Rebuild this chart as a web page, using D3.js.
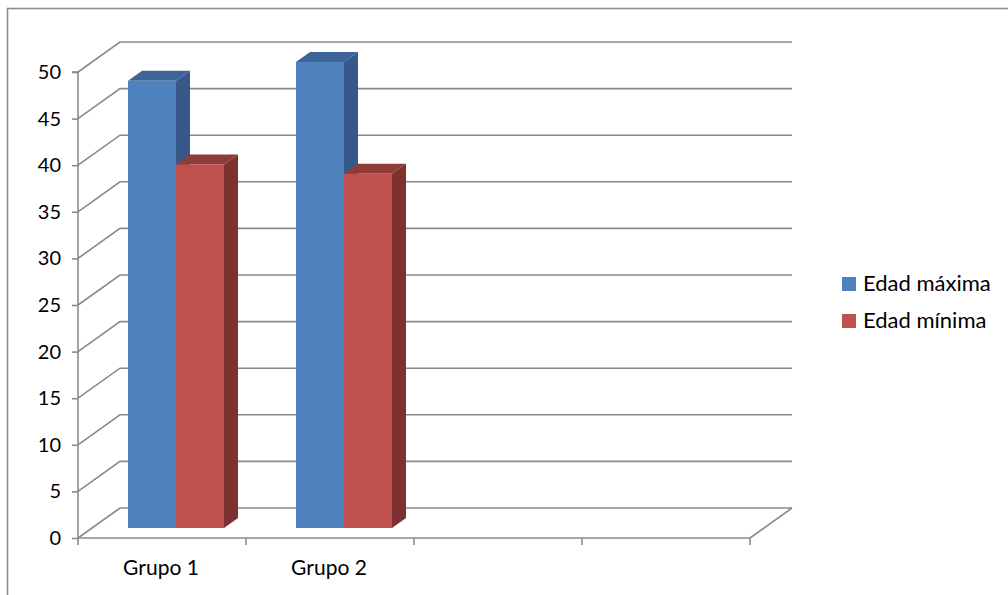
<!DOCTYPE html>
<html>
<head>
<meta charset="utf-8">
<script src="https://cdn.jsdelivr.net/npm/d3@7/dist/d3.min.js"></script>
<style>
  html, body { margin: 0; padding: 0; background: #ffffff; }
  svg { display: block; }
  text { font-family: Lato, "Open Sans", sans-serif; fill: #000; }
</style>
</head>
<body>
<svg id="chart" width="1008" height="595"></svg>
<script>
// Chart data
const categories = ["Grupo 1", "Grupo 2", "", ""];
const seriesNames = ["Edad máxima", "Edad mínima"];
const edadMaxima = [48, 50, null, null];
const edadMinima = [39, 38, null, null];
const yTicks = [0, 5, 10, 15, 20, 25, 30, 35, 40, 45, 50];

const seriesValues = [edadMaxima, edadMinima];
const colors = [
  { front: "#4f81bd", side: "#36598a", top: "#3d6497" },
  { front: "#c0504d", side: "#7c3230", top: "#8f3b38" }
];

const svg = d3.select("#chart");

// Front plane of the plot and the depth of the 3D box
const plotLeft = 78, plotRight = 750, plotBottom = 538, plotTop = 72;
const depthX = 42, depthY = -30;

const x = d3.scaleBand().domain(categories.map((c, i) => i)).range([plotLeft, plotRight]).padding(0);
const y = d3.scaleLinear().domain([0, 50]).range([plotBottom, plotTop]);

// Project a point at a given depth fraction (0 = front, 1 = back wall)
const proj = (px, v, t) => [px + depthX * t, y(v) + depthY * t];
const pts = arr => arr.map(p => p.join(",")).join(" ");

// Outer frame
svg.append("rect")
  .attr("x", 7.5).attr("y", 8.5).attr("width", 1100).attr("height", 1000)
  .attr("fill", "none").attr("stroke", "#8c8c8c").attr("stroke-width", 1.6);

const grid = svg.append("g").attr("stroke", "#8a8a8a").attr("stroke-width", 1.6).attr("fill", "none");

// Back wall gridlines and left wall diagonals
yTicks.forEach(v => {
  const a = proj(plotLeft, v, 0), b = proj(plotLeft, v, 1), c = proj(plotRight, v, 1);
  grid.append("polyline").attr("points", pts([a, b, c]));
});

// Floor right edge
{
  const a = proj(plotRight, 0, 0), b = proj(plotRight, 0, 1);
  grid.append("line").attr("x1", a[0]).attr("y1", a[1]).attr("x2", b[0]).attr("y2", b[1]);
}

// Bars (3D columns)
const step = x.bandwidth();
const barW = step / 3.5;
const gapOffset = barW * 0.75;
const t0 = 1 / 3, t1 = 2 / 3;
const bars = svg.append("g");

categories.forEach((cat, ci) => {
  seriesValues.forEach((vals, si) => {
    const v = vals[ci];
    if (v == null) return;
    const x0 = x(ci) + gapOffset + si * barW;
    const x1 = x0 + barW;
    const col = colors[si];
    // side face
    bars.append("polygon")
      .attr("points", pts([proj(x1, 0, t0), proj(x1, v, t0), proj(x1, v, t1), proj(x1, 0, t1)]))
      .attr("fill", col.side);
    // top face
    bars.append("polygon")
      .attr("points", pts([proj(x0, v, t0), proj(x0, v, t1), proj(x1, v, t1), proj(x1, v, t0)]))
      .attr("fill", col.top);
    // front face
    bars.append("polygon")
      .attr("points", pts([proj(x0, 0, t0), proj(x0, v, t0), proj(x1, v, t0), proj(x1, 0, t0)]))
      .attr("fill", col.front);
  });
});

// Value axis (front)
const yAxis = svg.append("g").attr("transform", `translate(${plotLeft},0)`)
  .call(d3.axisLeft(y).tickValues(yTicks).tickSize(6).tickPadding(11).tickFormat(d3.format("d")));
yAxis.select(".domain").attr("stroke", "#8a8a8a").attr("stroke-width", 1.6).attr("d", `M-6,${y(50)}H0V${y(0)}`);
yAxis.selectAll(".tick line").attr("stroke", "#8a8a8a").attr("stroke-width", 1.6);
yAxis.selectAll(".tick text").style("font-family", "Lato, sans-serif").style("font-size", "20px").attr("fill", "#000");

// Category axis (front floor edge)
const xAxisG = svg.append("g");
xAxisG.append("line").attr("x1", plotLeft).attr("x2", plotRight).attr("y1", plotBottom).attr("y2", plotBottom)
  .attr("stroke", "#8a8a8a").attr("stroke-width", 1.6);
const tickXs = categories.map((c, i) => x(i)).concat([plotRight]);
xAxisG.selectAll("line.tick").data(tickXs).join("line").attr("class", "tick")
  .attr("x1", d => d).attr("x2", d => d).attr("y1", plotBottom).attr("y2", plotBottom + 7)
  .attr("stroke", "#8a8a8a").attr("stroke-width", 1.6);
xAxisG.selectAll("text").data(categories).join("text")
  .attr("x", (d, i) => x(i) + step / 2 - 1)
  .attr("y", 575)
  .attr("text-anchor", "middle")
  .style("font-size", "21px")
  .text(d => d);

// Legend
const legend = svg.append("g").attr("transform", "translate(842,277)");
seriesNames.forEach((name, i) => {
  const g = legend.append("g").attr("transform", `translate(0,${i * 37})`);
  g.append("rect").attr("width", 14).attr("height", 14).attr("fill", colors[i].front);
  g.append("text").attr("x", 21).attr("y", 14).style("font-size", "22px").text(name);
});
</script>
</body>
</html>
